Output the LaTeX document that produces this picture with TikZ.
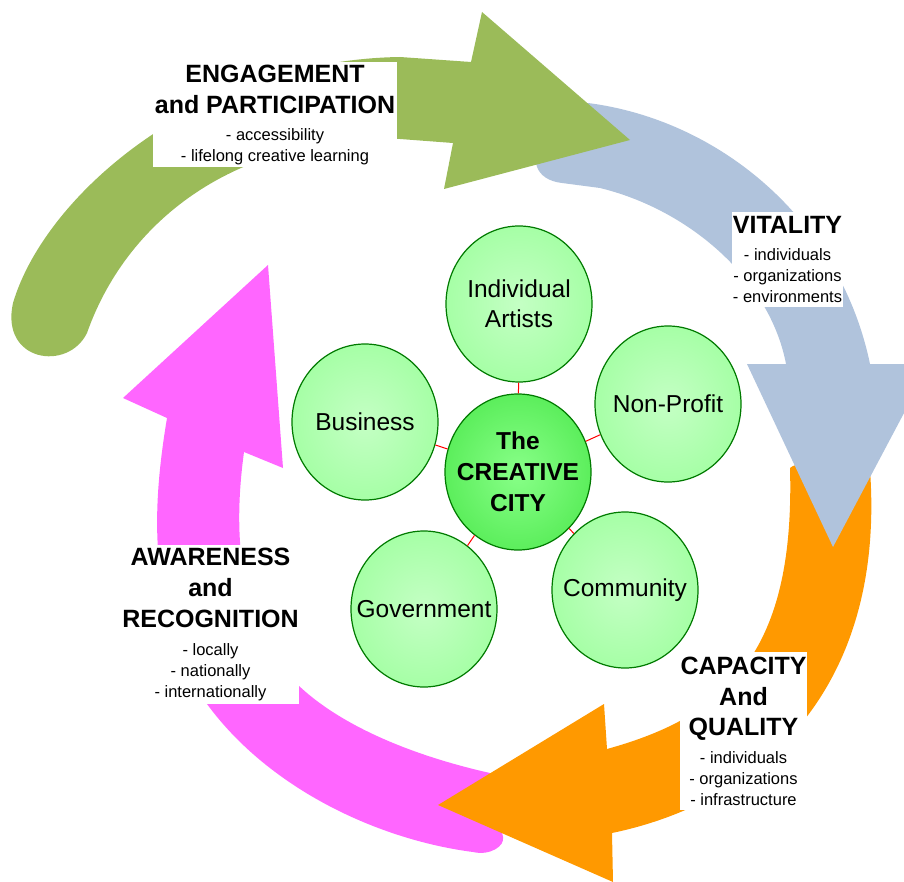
\documentclass[tikz,border=0pt]{standalone}
\usepackage{fontspec}
\setmainfont{Liberation Sans}
\usetikzlibrary{shapes.geometric}
\definecolor{greenarr}{HTML}{9BBB59}
\definecolor{bluearr}{HTML}{B0C3DC}
\definecolor{orangearr}{HTML}{FF9900}
\definecolor{pinkarr}{HTML}{FF66FF}
\definecolor{rimgreen}{HTML}{007A00}
\definecolor{palegr}{HTML}{C4FFC4}
\definecolor{softgr}{HTML}{A6FFA6}
\definecolor{brightgr}{HTML}{88FF88}
\definecolor{cityrim}{HTML}{5CEE5C}
\newcommand\headfont{\fontsize{25}{31}\selectfont\bfseries}
\newcommand\itemfont{\fontsize{16.5}{21}\selectfont}
\newcommand\hd[1]{{\headfont #1}}
\begin{document}
\begin{tikzpicture}[x=1pt,y=-1pt,
  group/.style={ellipse,draw=rimgreen,line width=1.2pt,minimum width=146pt,minimum height=156pt,
    inner sep=0pt,shading=radial,inner color=palegr,outer color=softgr},
  grouptext/.style={align=center,font=\fontsize{24.5}{30}\selectfont},
  citytext/.style={align=center,font=\fontsize{24.5}{31}\selectfont\bfseries},
  lblbox/.style={fill=white,inner sep=0pt,align=center,font=\itemfont},
  link/.style={red,line width=1pt}]
\useasboundingbox (0,0) rectangle (904,882);
\clip (0,0) rectangle (904,882);

\fill[pinkarr] (268,265) -- (123,398) -- (167,418)
  .. controls (150,520) and (150,610) .. (207,704)
  .. controls (270,790) and (380,840) .. (473,852)
  .. controls (490,856) and (505,846) .. (503,837) -- (490,773)
  .. controls (410,755) and (340,725) .. (298,685)
  .. controls (240,625) and (232,540) .. (244,452)
  -- (283,468) -- cycle;

\fill[orangearr] (607,749) -- (604,704) -- (438,805) -- (613,882) -- (612,833)
  .. controls (770,800) and (885,680) .. (870,470)
  .. controls (860,462) and (800,458) .. (790,468)
  .. controls (795,650) and (730,715) .. (607,749) -- cycle;

\fill[bluearr] (747,364) -- (786,364)
  .. controls (770,280) and (690,210) .. (600,188) -- (562,183)
  .. controls (535,180) and (528,158) .. (545,138) -- (588,103)
  .. controls (720,120) and (840,220) .. (870,364)
  -- (930,364) -- (833,547) -- cycle;

\fill[greenarr] (471,62) -- (482,12) -- (630,140) -- (444,189) -- (453,143) -- (400,139)
  .. controls (230,135) and (125,225) .. (87,333)
  .. controls (68,372) and (0,362) .. (13,303)
  .. controls (45,195) and (200,60) .. (400,57) -- cycle;

\node[lblbox,minimum width=244pt,minimum height=105pt] (engage) at (275,114.5)
  {\hd{ENGAGEMENT}\\[10pt]\hd{and PARTICIPATION}\\[6pt]- accessibility\\- lifelong creative learning};
\node[lblbox,minimum width=111pt,minimum height=95pt] (vitality) at (787.5,259.5)
  {\hd{VITALITY}\\[6pt]- individuals\\- organizations\\- environments};
\node[lblbox,minimum width=127pt,minimum height=158pt] (capacity) at (743.5,731)
  {\hd{CAPACITY}\\[10pt]\hd{And}\\[9pt]\hd{QUALITY}\\[7pt]- individuals\\- organizations\\- infrastructure};
\node[lblbox,minimum width=175pt,minimum height=159pt] (awareness) at (210.5,624.5)
  {\hd{AWARENESS}\\[10pt]\hd{and}\\[10pt]\hd{RECOGNITION}\\[7pt]- locally\\- nationally\\- internationally};

\node[group,label={[grouptext]center:Individual\\Artists}] (artists) at (519,304) {};
\node[group,label={[grouptext]center:Non-Profit}] (nonprofit) at (668,404) {};
\node[group,label={[grouptext]center:Business}] (business) at (365,422) {};
\node[group,label={[grouptext]center:Government}] (government) at (424,609) {};
\node[group,label={[grouptext]center:Community}] (community) at (625,590) {};
\node[group,inner color=brightgr,outer color=cityrim,label={[citytext]center:The\\CREATIVE\\CITY}] (city) at (518,472) {};

\foreach \g in {artists,nonprofit,community,government,business}
  \draw[link] (city) -- (\g);
\end{tikzpicture}
\end{document}
